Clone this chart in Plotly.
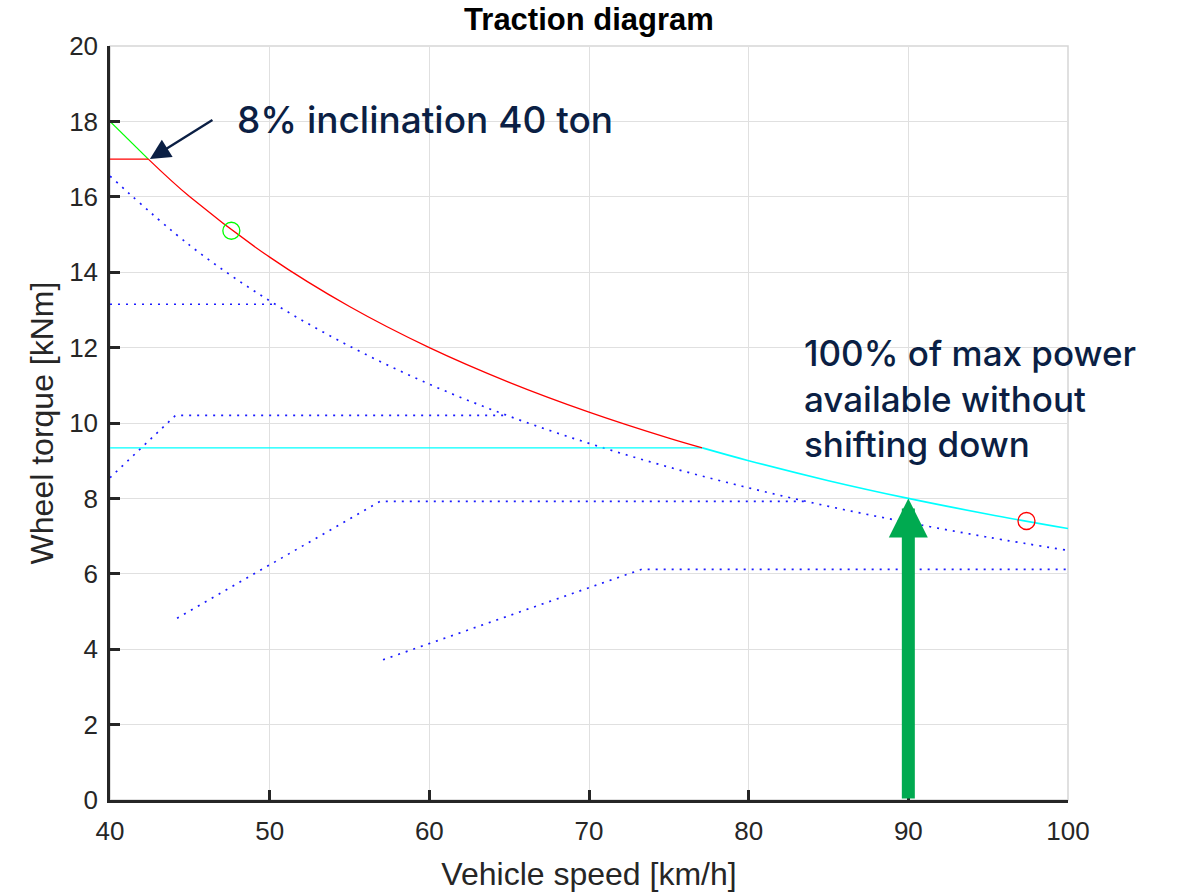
import plotly.graph_objects as go

# Full-power (constant power) torque limit, traction diagram in kNm vs km/h
power_speed = [42.4, 45, 50, 55, 60, 65, 70, 75, 77.1]
power_torque = [17.0, 16.0, 14.4, 13.09, 12.0, 11.08, 10.29, 9.6, 9.34]

# Clutch/start limit before the power curve
start_speed = [40, 42.4]
start_torque = [17.0, 17.0]

# 8% inclination, 40 ton requirement
incl_speed = [40, 42.4]
incl_torque = [18.0, 17.0]

# Highest gear: flat torque limit then full power
top_flat_speed = [40, 77.1]
top_flat_torque = [9.34, 9.34]
top_power_speed = [77.1, 80, 85, 90, 95, 100]
top_power_torque = [9.34, 9.0, 8.47, 8.0, 7.58, 7.2]

# Reduced power envelope (dotted)
reduced_speed = [40, 45, 50, 55, 60, 65, 70, 75, 80, 85, 90, 95, 100]
reduced_torque = [16.55, 14.71, 13.24, 12.04, 11.03, 10.18, 9.46, 8.83, 8.28, 7.79, 7.36, 6.97, 6.62]

# Gear lines (dotted)
gear_a_speed = [40, 50.3]
gear_a_torque = [13.15, 13.15]
gear_b_speed = [40, 44.1, 64.9]
gear_b_torque = [8.55, 10.2, 10.2]
gear_c_speed = [44.2, 56.9, 83.5]
gear_c_torque = [4.82, 7.92, 7.92]
gear_d_speed = [57.1, 73.3, 100]
gear_d_torque = [3.72, 6.12, 6.12]

# Operating points
green_point = (47.6, 15.1)
red_point = (97.4, 7.4)

# Arrow at the full power point
arrow_speed = 90
arrow_torque = 8.0

x_ticks = [40, 50, 60, 70, 80, 90, 100]
y_ticks = [0, 2, 4, 6, 8, 10, 12, 14, 16, 18, 20]

AXIS_FONT = "Liberation Sans, Arial, sans-serif"
NAVY = "#0b1f44"

fig = go.Figure()

dot_style = dict(color="#1a1aff", width=1.7, dash="2px,6px")
fig.add_trace(go.Scatter(x=reduced_speed, y=reduced_torque, mode="lines",
                         line=dict(dot_style, shape="spline")))
for xs, ys in [(gear_a_speed, gear_a_torque), (gear_b_speed, gear_b_torque),
               (gear_c_speed, gear_c_torque), (gear_d_speed, gear_d_torque)]:
    fig.add_trace(go.Scatter(x=xs, y=ys, mode="lines", line=dot_style))

fig.add_trace(go.Scatter(x=top_flat_speed, y=top_flat_torque, mode="lines",
                         line=dict(color="#00ffff", width=1.3)))
fig.add_trace(go.Scatter(x=incl_speed, y=incl_torque, mode="lines",
                         line=dict(color="#00ff00", width=1.3)))
fig.add_trace(go.Scatter(x=start_speed, y=start_torque, mode="lines",
                         line=dict(color="#ff0000", width=1.3)))
fig.add_trace(go.Scatter(x=power_speed, y=power_torque, mode="lines",
                         line=dict(color="#ff0000", width=1.3, shape="spline")))
fig.add_trace(go.Scatter(x=top_power_speed, y=top_power_torque, mode="lines",
                         line=dict(color="#00ffff", width=1.6, shape="spline")))

fig.add_trace(go.Scatter(x=[green_point[0]], y=[green_point[1]], mode="markers",
                         marker=dict(symbol="circle-open", size=17, color="#00ff00",
                                     line=dict(width=1.3, color="#00ff00"))))
fig.add_trace(go.Scatter(x=[red_point[0]], y=[red_point[1]], mode="markers",
                         marker=dict(symbol="circle-open", size=17, color="#ff0000",
                                     line=dict(width=1.3, color="#ff0000"))))

# Green arrow up to the full power point at 90 km/h
fig.add_annotation(x=arrow_speed, y=arrow_torque, ax=arrow_speed, ay=0,
                   xref="x", yref="y", axref="x", ayref="y",
                   showarrow=True, arrowhead=2, arrowsize=0.6, arrowwidth=13,
                   arrowcolor="#00aa50", standoff=0, text="")

# Inclination callout
fig.add_annotation(x=42.5, y=17.0, ax=64, ay=-40, xref="x", yref="y",
                   showarrow=True, arrowhead=2, arrowsize=1.7, arrowwidth=2.4,
                   arrowcolor=NAVY, standoff=0, text="")
fig.add_annotation(x=47.8, y=18.05, xref="x", yref="y", xanchor="left", yanchor="middle",
                   showarrow=False, text="8% inclination 40 ton",
                   font=dict(family="Inter, sans-serif", size=37, color=NAVY, weight=500))
fig.add_annotation(x=83.35, y=10.66, xref="x", yref="y", xanchor="left", yanchor="middle",
                   align="left", showarrow=False,
                   text="100% of max power<br>available without<br>shifting down",
                   font=dict(family="Inter, sans-serif", size=35, color=NAVY, weight=500))

# Light box on top and right
fig.add_shape(type="rect", xref="paper", yref="paper", x0=0, x1=1, y0=0, y1=1,
              line=dict(color="#d6d6d6", width=1.5), layer="below")

axis_common = dict(showgrid=True, gridcolor="#e0e0e0", gridwidth=1.2,
                   showline=True, linecolor="#262626", linewidth=2.5,
                   ticks="inside", ticklen=10, tickwidth=2.5, tickcolor="#262626",
                   zeroline=False, mirror=False, automargin=False,
                   tickfont=dict(family=AXIS_FONT, size=26, color="#262626"))

fig.update_xaxes(range=[40, 100], tickvals=x_ticks, ticklabelstandoff=6, **axis_common,
                 title=dict(text="Vehicle speed [km/h]", standoff=19,
                            font=dict(family=AXIS_FONT, size=32, color="#262626")))
fig.update_yaxes(range=[0, 20], tickvals=y_ticks, ticklabelstandoff=4, **axis_common,
                 title=dict(text="Wheel torque [kNm]", standoff=6,
                            font=dict(family=AXIS_FONT, size=32, color="#262626")))

fig.update_layout(
    width=1178, height=892,
    margin=dict(l=110, r=110, t=46, b=92, autoexpand=False),
    plot_bgcolor="white", paper_bgcolor="white",
    showlegend=False,
    title=dict(text="<b>Traction diagram</b>", x=0.5, xref="paper", xanchor="center",
               y=0.979, yanchor="middle",
               font=dict(family=AXIS_FONT, size=31, color="black")),
)

fig.write_html("out.html")
